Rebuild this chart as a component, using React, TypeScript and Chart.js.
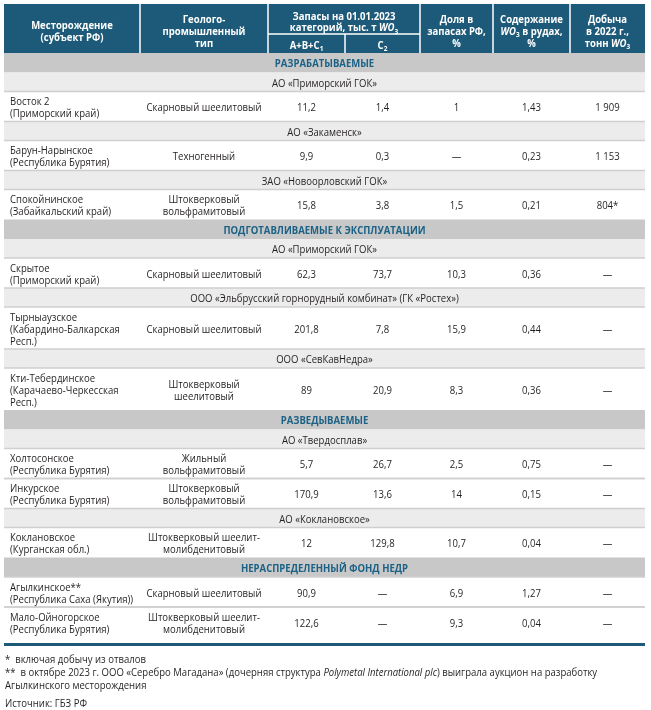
import React, { useEffect, useRef } from 'react';
import { Chart, registerables } from 'chart.js';

Chart.register(...registerables);

// ---------------- DATA ----------------
const sections = [
  'РАЗРАБАТЫВАЕМЫЕ',
  'ПОДГОТАВЛИВАЕМЫЕ К ЭКСПЛУАТАЦИИ',
  'РАЗВЕДЫВАЕМЫЕ',
  'НЕРАСПРЕДЕЛЕННЫЙ ФОНД НЕДР',
];

const companies = [
  'АО «Приморский ГОК»',
  'АО «Закаменск»',
  'ЗАО «Новоорловский ГОК»',
  'АО «Приморский ГОК»',
  'ООО «Эльбрусский горнорудный комбинат» (ГК «Ростех»)',
  'ООО «СевКавНедра»',
  'АО «Твердосплав»',
  'АО «Коклановское»',
];

const depositNames: string[][] = [
  ['Восток 2', '(Приморский край)'],
  ['Барун-Нарынское', '(Республика Бурятия)'],
  ['Спокойнинское', '(Забайкальский край)'],
  ['Скрытое', '(Приморский край)'],
  ['Тырныаузское', '(Кабардино-Балкарская', 'Респ.)'],
  ['Кти-Тебердинское', '(Карачаево-Черкесская', 'Респ.)'],
  ['Холтосонское', '(Республика Бурятия)'],
  ['Инкурское', '(Республика Бурятия)'],
  ['Коклановское', '(Курганская обл.)'],
  ['Агылкинское**', '(Республика Саха (Якутия))'],
  ['Мало-Ойногорское', '(Республика Бурятия)'],
];

const depositTypes: string[][] = [
  ['Скарновый шеелитовый'],
  ['Техногенный'],
  ['Штокверковый', 'вольфрамитовый'],
  ['Скарновый шеелитовый'],
  ['Скарновый шеелитовый'],
  ['Штокверковый', 'шеелитовый'],
  ['Жильный', 'вольфрамитовый'],
  ['Штокверковый', 'вольфрамитовый'],
  ['Штокверковый шеелит-', 'молибденитовый'],
  ['Скарновый шеелитовый'],
  ['Штокверковый шеелит-', 'молибденитовый'],
];

const reservesABC1: (number | null)[] = [11.2, 9.9, 15.8, 62.3, 201.8, 89, 5.7, 170.9, 12, 90.9, 122.6];
const reservesC2: (number | null)[] = [1.4, 0.3, 3.8, 73.7, 7.8, 20.9, 26.7, 13.6, 129.8, null, null];
const shareRF: (number | null)[] = [1, null, 1.5, 10.3, 15.9, 8.3, 2.5, 14, 10.7, 6.9, 9.3];
const wo3Content: (number | null)[] = [1.43, 0.23, 0.21, 0.36, 0.44, 0.36, 0.75, 0.15, 0.04, 1.27, 0.04];
const production2022: (number | null)[] = [1909, 1153, 804, null, null, null, null, null, null, null, null];
const productionNote: string[] = ['', '', '*', '', '', '', '', '', '', '', ''];

const depositSection = [0, 0, 0, 1, 1, 1, 2, 2, 2, 3, 3];
const depositCompany = [0, 1, 2, 3, 4, 5, 6, 6, 7, -1, -1];

const headerCol0 = ['Месторождение', '(субъект РФ)'];
const headerCol1 = ['Геолого-', 'промышленный', 'тип'];
const headerReserves = ['Запасы на 01.01.2023', 'категорий, тыс. т [WO]_{3}'];
const headerSub = ['A+B+C_{1}', 'C_{2}'];
const headerCol4 = ['Доля в', 'запасах РФ,', '%'];
const headerCol5 = ['Содержание', '[WO]_{3} в рудах,', '%'];
const headerCol6 = ['Добыча', 'в 2022 г.,', 'тонн [WO]_{3}'];

const footnotes = [
  '*  включая добычу из отвалов',
  '**  в октябре 2023 г. ООО «Серебро Магадана» (дочерняя структура [Polymetal International plc]) выиграла аукцион на разработку',
  'Агылкинского месторождения',
  'Источник: ГБЗ РФ',
];

// ---------------- STYLE ----------------
const FONT = '"Open Sans", sans-serif';
const FS = 10.6;
const SX = 0.9; // horizontal condensing of glyphs
const HEADER_BG = '#1d5a79';
const SECTION_BG = '#c8c8c8';
const COMPANY_BG = '#ececec';
const SECTION_TEXT = '#1b6286';
const TEXT = '#231f20';
const SEP = '#cfcfcf';

const COLS = [4, 140, 268, 345, 420, 493, 570, 645];
const TOP = 4;
const HEADER_H = 49;
const HEADER_SPLIT = 34;
const SECTION_H = 19.5;
const COMPANY_H = 19;
const LINE_H = 12;
const DATA_PAD = 6;
const LAST_EXTRA = 5;
const TEXT_DY = 1;

const fmt = (v: number | null, note = '') => {
  if (v === null) return '—';
  let s: string;
  if (Math.abs(v) >= 1000) {
    s = String(Math.round(v)).replace(/\B(?=(\d{3})+(?!\d))/g, ' ');
  } else {
    s = String(v).replace('.', ',');
  }
  return s + note;
};

type Seg = { t: string; i?: boolean; sub?: boolean };
const parseRich = (text: string): Seg[] => {
  const parts = text.split(/(\[[^\]]+\]|_\{[^}]+\})/).filter((p) => p.length > 0);
  return parts.map((p) => {
    if (p.startsWith('[') && p.endsWith(']')) return { t: p.slice(1, -1), i: true };
    if (p.startsWith('_{')) return { t: p.slice(2, -1), sub: true };
    return { t: p };
  });
};

const fontFor = (seg: Seg, size: number, bold: boolean) =>
  `${seg.i ? 'italic ' : ''}${bold ? 'bold ' : ''}${seg.sub ? size * 0.68 : size}px ${FONT}`;

const drawRich = (
  ctx: CanvasRenderingContext2D,
  text: string,
  x: number,
  y: number,
  align: 'left' | 'center',
  size: number,
  bold: boolean,
  color: string
) => {
  const segs = parseRich(text);
  let total = 0;
  const widths = segs.map((s) => {
    ctx.font = fontFor(s, size, bold);
    const w = ctx.measureText(s.t).width * SX;
    total += w;
    return w;
  });
  let cx = align === 'center' ? x - total / 2 : x;
  ctx.fillStyle = color;
  ctx.textAlign = 'left';
  ctx.textBaseline = 'middle';
  segs.forEach((s, k) => {
    ctx.font = fontFor(s, size, bold);
    ctx.save();
    ctx.translate(cx, (s.sub ? y + size * 0.32 : y) + TEXT_DY);
    ctx.scale(SX, 1);
    ctx.fillText(s.t, 0, 0);
    ctx.restore();
    cx += widths[k];
  });
};

const drawLines = (
  ctx: CanvasRenderingContext2D,
  lines: string[],
  x: number,
  cy: number,
  align: 'left' | 'center',
  size: number,
  bold: boolean,
  color: string,
  lh = LINE_H
) => {
  const start = cy - ((lines.length - 1) * lh) / 2;
  lines.forEach((ln, k) => drawRich(ctx, ln, x, start + k * lh, align, size, bold, color));
};

type Row =
  | { kind: 'section'; idx: number }
  | { kind: 'company'; idx: number }
  | { kind: 'data'; idx: number };

const buildRows = (): Row[] => {
  const rows: Row[] = [];
  let lastSec = -1;
  let lastComp = -2;
  depositNames.forEach((_, i) => {
    if (depositSection[i] !== lastSec) {
      rows.push({ kind: 'section', idx: depositSection[i] });
      lastSec = depositSection[i];
      lastComp = -2;
    }
    if (depositCompany[i] >= 0 && depositCompany[i] !== lastComp) {
      rows.push({ kind: 'company', idx: depositCompany[i] });
    }
    lastComp = depositCompany[i];
    rows.push({ kind: 'data', idx: i });
  });
  return rows;
};

const tablePlugin = {
  id: 'tablePlugin',
  afterDraw(chart: Chart) {
    const ctx = chart.ctx;
    const L = COLS[0];
    const R = COLS[COLS.length - 1];
    const W = R - L;
    ctx.save();
    ctx.fillStyle = '#ffffff';
    ctx.fillRect(0, 0, chart.width, chart.height);

    // header
    ctx.fillStyle = HEADER_BG;
    ctx.fillRect(L, TOP, W, HEADER_H);
    ctx.strokeStyle = '#ffffff';
    ctx.lineWidth = 1.5;
    [1, 2, 4, 5, 6].forEach((c) => {
      ctx.beginPath();
      ctx.moveTo(COLS[c], TOP);
      ctx.lineTo(COLS[c], TOP + HEADER_H);
      ctx.stroke();
    });
    ctx.beginPath();
    ctx.moveTo(COLS[3], HEADER_SPLIT);
    ctx.lineTo(COLS[3], TOP + HEADER_H);
    ctx.moveTo(COLS[2], HEADER_SPLIT);
    ctx.lineTo(COLS[4], HEADER_SPLIT);
    ctx.stroke();

    const mid = (a: number, b: number) => (COLS[a] + COLS[b]) / 2;
    const hc = TOP + HEADER_H / 2 + 2.5;
    drawLines(ctx, headerCol0, mid(0, 1), hc, 'center', FS, true, '#fff');
    drawLines(ctx, headerCol1, mid(1, 2), hc, 'center', FS, true, '#fff');
    drawLines(ctx, headerReserves, mid(2, 4), (TOP + HEADER_SPLIT) / 2 + 2.5, 'center', FS, true, '#fff', 11.5);
    drawLines(ctx, [headerSub[0]], mid(2, 3), (HEADER_SPLIT + TOP + HEADER_H) / 2 + 1, 'center', FS, true, '#fff');
    drawLines(ctx, [headerSub[1]], mid(3, 4), (HEADER_SPLIT + TOP + HEADER_H) / 2 + 1, 'center', FS, true, '#fff');
    drawLines(ctx, headerCol4, mid(4, 5), hc, 'center', FS, true, '#fff');
    drawLines(ctx, headerCol5, mid(5, 6), hc, 'center', FS, true, '#fff');
    drawLines(ctx, headerCol6, mid(6, 7), hc, 'center', FS, true, '#fff');

    // body
    const rows = buildRows();
    let y = TOP + HEADER_H;
    const sepYs: number[] = [];
    rows.forEach((row, r) => {
      if (row.kind === 'section') {
        ctx.fillStyle = SECTION_BG;
        ctx.fillRect(L, y, W, SECTION_H);
        drawLines(ctx, [sections[row.idx]], (L + R) / 2, y + SECTION_H / 2 + 0.5, 'center', FS, true, SECTION_TEXT);
        y += SECTION_H;
      } else if (row.kind === 'company') {
        ctx.fillStyle = COMPANY_BG;
        ctx.fillRect(L, y, W, COMPANY_H);
        drawLines(ctx, [companies[row.idx]], (L + R) / 2, y + COMPANY_H / 2 + 0.5, 'center', FS, false, TEXT);
        y += COMPANY_H;
      } else {
        const i = row.idx;
        const n = Math.max(depositNames[i].length, depositTypes[i].length);
        let h = n * LINE_H + DATA_PAD;
        if (r === rows.length - 1) h += LAST_EXTRA;
        const cy = y + (n * LINE_H + DATA_PAD) / 2 + 0.5;
        sepYs.push(y);
        drawLines(ctx, depositNames[i], COLS[0] + 6, cy, 'left', FS, false, TEXT);
        drawLines(ctx, depositTypes[i], mid(1, 2), cy, 'center', FS, false, TEXT);
        drawLines(ctx, [fmt(reservesABC1[i])], mid(2, 3), cy, 'center', FS, false, TEXT);
        drawLines(ctx, [fmt(reservesC2[i])], mid(3, 4), cy, 'center', FS, false, TEXT);
        drawLines(ctx, [fmt(shareRF[i])], mid(4, 5), cy, 'center', FS, false, TEXT);
        drawLines(ctx, [fmt(wo3Content[i])], mid(5, 6), cy, 'center', FS, false, TEXT);
        drawLines(ctx, [fmt(production2022[i], productionNote[i])], mid(6, 7), cy, 'center', FS, false, TEXT);
        y += h;
        if (r < rows.length - 1 && rows[r + 1].kind !== 'section') sepYs.push(y);
      }
    });
    ctx.strokeStyle = SEP;
    ctx.lineWidth = 1.5;
    sepYs.forEach((sy) => {
      ctx.beginPath();
      ctx.moveTo(L, sy);
      ctx.lineTo(R, sy);
      ctx.stroke();
    });

    // bottom rule
    ctx.fillStyle = HEADER_BG;
    ctx.fillRect(L, y + 1, W, 3);

    // footnotes
    const fy = [y + 17, y + 30, y + 43, y + 61];
    footnotes.forEach((f, k) => drawRich(ctx, f, 5, fy[k], 'left', FS, false, TEXT));
    ctx.restore();
  },
};

export default function App() {
  const canvasRef = useRef<HTMLCanvasElement | null>(null);
  useEffect(() => {
    document.body.style.margin = '0';
    const canvas = canvasRef.current;
    if (!canvas) return;
    const chart = new Chart(canvas, {
      type: 'bar',
      data: { labels: [], datasets: [] },
      options: {
        responsive: false,
        animation: false,
        devicePixelRatio: 1,
        plugins: { legend: { display: false }, tooltip: { enabled: false } },
        scales: { x: { display: false }, y: { display: false } },
      },
      plugins: [tablePlugin as any],
    });
    return () => chart.destroy();
  }, []);
  return <canvas ref={canvasRef} width={651} height={710} style={{ display: 'block' }} />;
}
